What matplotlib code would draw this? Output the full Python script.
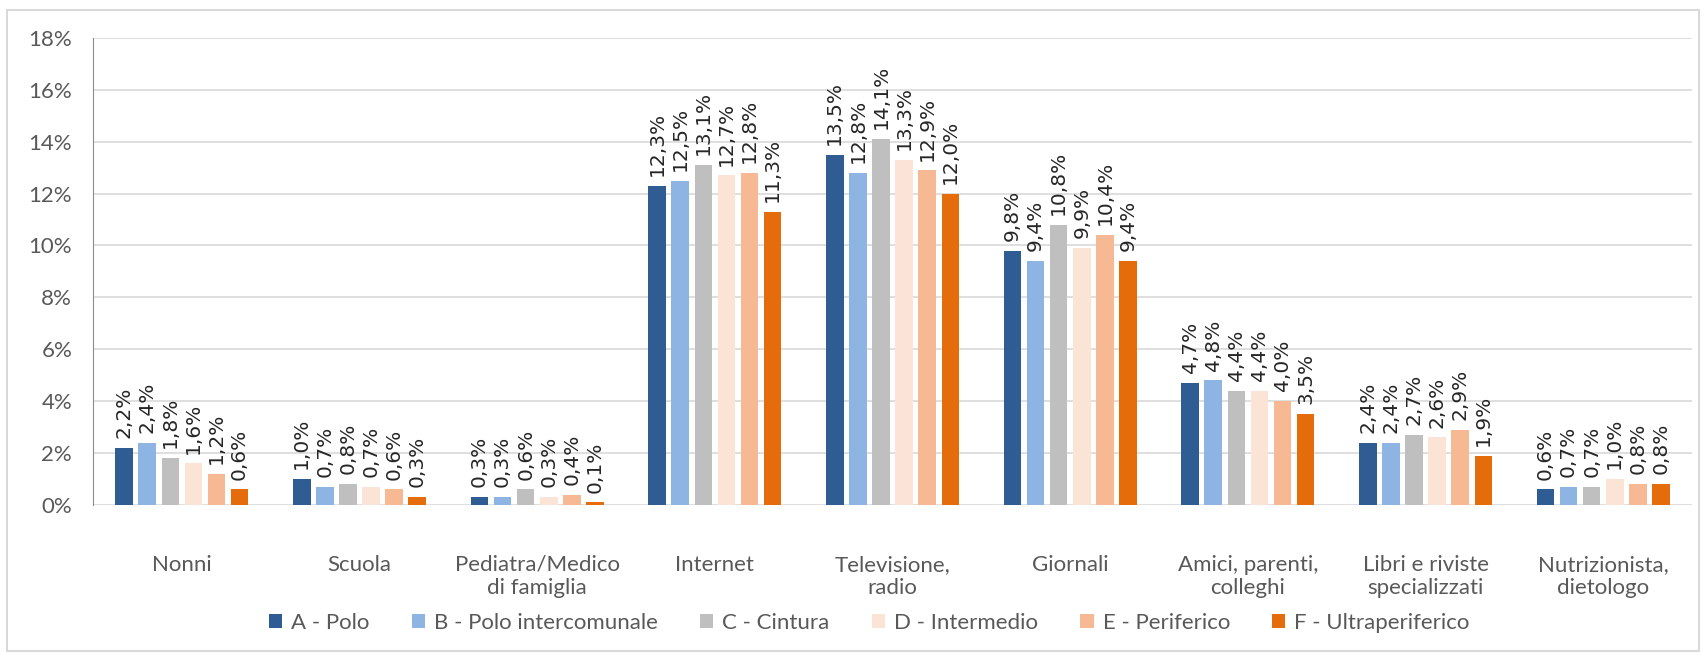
import numpy as np
import matplotlib.pyplot as plt
from matplotlib.ticker import FuncFormatter

plt.rcParams['font.family'] = ['Lato', 'DejaVu Sans']

categories = ['Nonni', 'Scuola', 'Pediatra/Medico\ndi famiglia', 'Internet',
              'Televisione,\nradio', 'Giornali', 'Amici, parenti,\ncolleghi',
              'Libri e riviste\nspecializzati', 'Nutrizionista,\ndietologo']
series = ['A - Polo', 'B - Polo intercomunale', 'C - Cintura',
          'D - Intermedio', 'E - Periferico', 'F - Ultraperiferico']
A = [2.2, 1.0, 0.3, 12.3, 13.5, 9.8, 4.7, 2.4, 0.6]
B = [2.4, 0.7, 0.3, 12.5, 12.8, 9.4, 4.8, 2.4, 0.7]
C = [1.8, 0.8, 0.6, 13.1, 14.1, 10.8, 4.4, 2.7, 0.7]
D = [1.6, 0.7, 0.3, 12.7, 13.3, 9.9, 4.4, 2.6, 1.0]
E = [1.2, 0.6, 0.4, 12.8, 12.9, 10.4, 4.0, 2.9, 0.8]
F = [0.6, 0.3, 0.1, 11.3, 12.0, 9.4, 3.5, 1.9, 0.8]
values = [A, B, C, D, E, F]
colors = ['#2F5C92', '#8DB4E2', '#BFBFBF', '#FBE3D5', '#F7B994', '#E46C0A']

fig = plt.figure(figsize=(17.04, 6.54), dpi=100)
ax = fig.add_axes([0.0546, 0.228, 0.9384, 0.714])

x = np.arange(len(categories))
step = 0.13
w = 0.099
for i, (vals, col, name) in enumerate(zip(values, colors, series)):
    pos = x + (i - 2.5) * step
    ax.bar(pos, vals, w, color=col, label=name, zorder=3)
    for p, v in zip(pos, vals):
        ax.annotate(('%.1f' % v).replace('.', ',') + '%', (p, v), xytext=(0, 7),
                    textcoords='offset points', rotation=90, ha='center', va='bottom',
                    fontsize=14.5, color='#262626', family='DejaVu Sans')

ax.set_ylim(0, 18)
ax.set_xlim(-0.5, len(categories) - 0.5)
ax.set_yticks(np.arange(0, 19, 2))
ax.yaxis.set_major_formatter(FuncFormatter(lambda v, _: '%d%%' % v))
ax.set_xticks(x)
ax.set_xticklabels(categories)
ax.tick_params(axis='both', length=0, labelsize=16, colors='#595959')
ax.tick_params(axis='x', pad=36)
ax.tick_params(axis='y', pad=15)
ax.grid(axis='y', color='#D9D9D9', linewidth=1.2, zorder=0)
for s in ['top', 'right', 'bottom']:
    ax.spines[s].set_visible(False)
ax.spines['left'].set_color('#8C8C8C')

ax.legend(loc='center', bbox_to_anchor=(0.4855, -0.253), ncol=6, frameon=False,
          fontsize=16, handlelength=0.6, handleheight=0.6, columnspacing=1.9,
          handletextpad=0.4, labelcolor='#595959')

fig.patches.append(plt.Rectangle((0.004, 0.004), 0.993, 0.98, transform=fig.transFigure,
                                 fill=False, edgecolor='#D9D9D9', linewidth=1.5))
fig.savefig('out.png', dpi=100)
